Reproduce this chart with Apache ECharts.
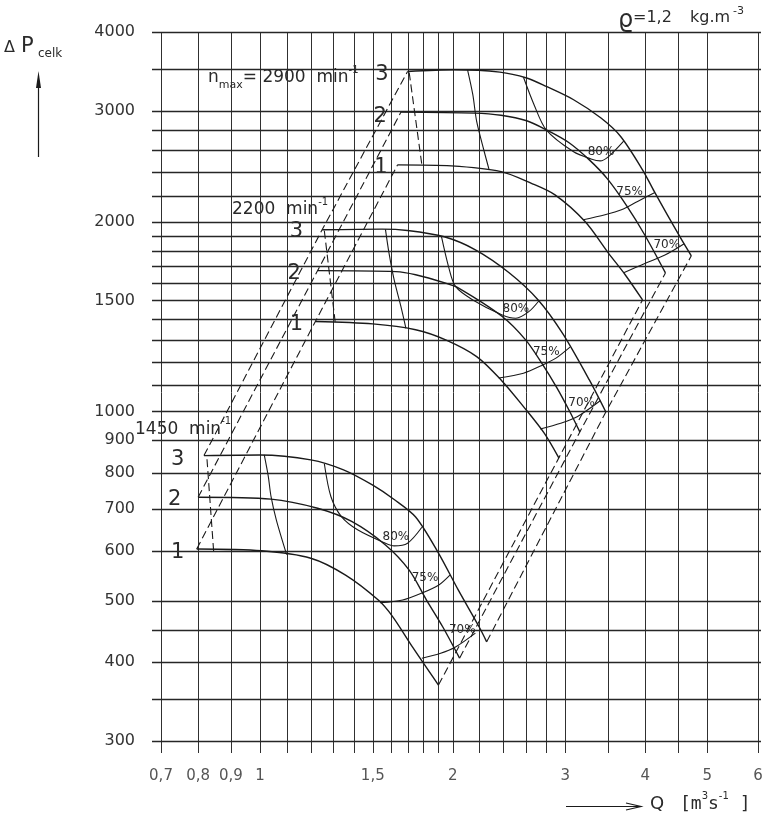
<!DOCTYPE html>
<html>
<head>
<meta charset="utf-8">
<title>Fan characteristic</title>
<script src="https://cdn.jsdelivr.net/npm/echarts@6.0.0/dist/echarts.min.js"></script>
<style>
html,body{margin:0;padding:0;background:#fff;}
#chart{width:773px;height:819px;}
</style>
</head>
<body>
<div id="chart"></div>
<script>
// ---------- axes: grid lines and tick labels ----------
const gridQ = [0.7,0.8,0.9,1,1.1,1.2,1.3,1.4,1.5,1.6,1.7,1.8,1.9,2,2.2,2.4,2.6,2.8,3,3.5,4,4.5,5,6];
const gridP = [300,350,400,450,500,600,700,800,900,1000,1100,1200,1300,1400,1500,1600,1700,1800,1900,2000,2200,2400,2600,2800,3000,3500,4000];
const xTickValues = [0.7,0.8,0.9,1,1.5,2,3,4,5,6];
const xTickLabels = ['0,7','0,8','0,9','1','1,5','2','3','4','5','6'];
const yTickValues = [300,400,500,600,700,800,900,1000,1500,2000,3000,4000];
const yTickLabels = ['300','400','500','600','700','800','900','1000','1500','2000','3000','4000'];

// ---------- fan curves  [Q m3/s, dP Pa] ----------
const c2900_3 = [[1.70,3463],[2.01,3485],[2.37,3455],[2.61,3381],[2.80,3279],[3.09,3123],[3.41,2921],[3.66,2731],[3.96,2418],[4.13,2234],[4.33,2051],[4.56,1872],[4.72,1766]];
const c2900_2 = [[1.66,2985],[2.16,2974],[2.38,2951],[2.61,2892],[2.80,2798],[3.04,2669],[3.27,2507],[3.49,2339],[3.75,2112],[3.99,1907],[4.30,1659]];
const c2900_1 = [[1.64,2462],[1.99,2453],[2.38,2402],[2.65,2303],[2.89,2206],[3.22,2001],[3.50,1785],[3.72,1648],[3.96,1503]];
const c2200_3 = [[1.25,1942],[1.55,1947],[1.70,1937],[1.94,1893],[2.17,1805],[2.45,1660],[2.72,1503],[2.97,1330],[3.27,1122],[3.47,998]];
const c2200_2 = [[1.23,1673],[1.63,1667],[1.75,1648],[1.95,1598],[2.04,1571],[2.39,1415],[2.60,1299],[2.76,1190],[2.91,1090],[3.05,998],[3.16,928]];
const c2200_1 = [[1.22,1389],[1.50,1377],[1.75,1348],[1.95,1299],[2.18,1222],[2.38,1122],[2.58,1018],[2.78,924],[2.93,844]];
const c1450_3 = [[0.817,851],[1.00,853],[1.20,838],[1.35,808],[1.50,764],[1.62,725],[1.75,680],[1.90,596],[2.04,521],[2.20,455],[2.26,431]];
const c1450_2 = [[0.80,731],[1.04,726],[1.23,702],[1.39,669],[1.57,614],[1.71,560],[1.82,502],[1.93,455],[2.05,406]];
const c1450_1 = [[0.796,605],[1.005,601],[1.20,585],[1.36,550],[1.53,502],[1.61,473],[1.73,423],[1.90,368]];

// ---------- efficiency lines ----------
const effL_2900 = [[2.11,3480],[2.15,3181],[2.18,2885],[2.24,2585],[2.28,2418]];
const eff80_2900 = [[2.58,3390],[2.68,3067],[2.80,2798],[3.09,2582],[3.29,2516],[3.40,2498],[3.50,2535],[3.70,2685]];
const eff75_2900 = [[3.20,2014],[3.46,2051],[3.67,2089],[3.89,2154],[4.14,2225]];
const eff70_2900 = [[3.70,1660],[4.00,1719],[4.30,1772],[4.60,1845]];
const effL_2200 = [[1.57,1945],[1.59,1785],[1.62,1617],[1.66,1467],[1.69,1355]];
const eff80_2200 = [[1.92,1897],[1.97,1698],[2.02,1579],[2.15,1503],[2.39,1423],[2.51,1406],[2.63,1440],[2.73,1500]];
const eff75_2200 = [[2.36,1130],[2.58,1150],[2.77,1186],[2.90,1215],[3.05,1265]];
const eff70_2200 = [[2.74,938],[2.95,958],[3.13,981],[3.40,1040]];
const effL_1450 = [[1.015,853],[1.03,788],[1.04,733],[1.06,673],[1.10,593]];
const eff80_1450 = [[1.26,826],[1.29,733],[1.34,681],[1.42,649],[1.57,618],[1.62,612],[1.70,618],[1.79,655]];
const eff75_1450 = [[1.54,497],[1.67,502],[1.79,515],[1.90,530],[1.98,550]];
const eff70_1450 = [[1.79,406],[1.91,413],[2.02,423],[2.17,445]];

// ---------- dashed stall lines ----------
const stall_2900 = [[1.71,3450],[1.79,2460]];
const stall_2200 = [[1.26,1935],[1.31,1388]];
const stall_1450 = [[0.826,840],[0.846,600]];

// ---------- annotations ----------
const pctLabelText = ['80%','75%','70%','80%','75%','70%','80%','75%','70%'];
const pctLabelAt = [[3.41,2585],[3.78,2234],[4.32,1838],[2.51,1453],[2.80,1245],[3.18,1031],[1.63,632],[1.81,544],[2.07,450]];
const bladeLabelText = ['3','2','1','3','2','1','3','2','1'];
const bladeLabelAt = [[1.55,3421],[1.54,2938],[1.545,2436],[1.14,1930],[1.13,1654],[1.14,1373],[0.743,838],[0.735,724],[0.743,597]];

// ---------- build ----------
const F = '"DejaVu Sans", "Liberation Sans", sans-serif';
const MONO = '"DejaVu Sans Mono", monospace';
const INK = '#1a1a1a';
const TXT = '#2a2a2a';

const fanCurves = [c2900_1,c2900_2,c2900_3,c2200_1,c2200_2,c2200_3,c1450_1,c1450_2,c1450_3];
const effCurves = [effL_2900,eff80_2900,eff75_2900,eff70_2900,effL_2200,eff80_2200,eff75_2200,eff70_2200,effL_1450,eff80_1450,eff75_1450,eff70_1450];
const stallLines = [stall_2900, stall_2200, stall_1450];
const bladeSets = [[c1450_1,c2200_1,c2900_1],[c1450_2,c2200_2,c2900_2],[c1450_3,c2200_3,c2900_3]];
const leftBounds = bladeSets.map(s => s.map(c => c[0]));
const rightBounds = bladeSets.map(s => s.map(c => c[c.length - 1]));

function solid(data, w, sm) {
  return {type:'line', data, symbol:'none', showSymbol:false, smooth:sm, silent:true, z:3,
    lineStyle:{color:INK, width:w, type:'solid'}};
}
function dashed(data) {
  return {type:'line', data, symbol:'none', showSymbol:false, smooth:false, silent:true, z:3,
    lineStyle:{color:INK, width:1.1, type:[8,4]}};
}
function textSeries(points, texts, make) {
  return {type:'custom', coordinateSystem:'cartesian2d', clip:false, silent:true, z:6,
    data: points,
    renderItem: (params, api) => {
      const p = api.coord([api.value(0), api.value(1)]);
      return Object.assign({type:'text'}, make(p, texts[params.dataIndex]));
    }};
}

const series = [];
// vertical grid lines
series.push({type:'custom', coordinateSystem:'cartesian2d', clip:false, silent:true, z:1,
  data: gridQ.map(q => [q, 300]),
  renderItem: (params, api) => {
    const cs = params.coordSys;
    const x = Math.round(api.coord([api.value(0), 300])[0]) + 0.5;
    return {type:'line', shape:{x1:x, y1:cs.y, x2:x, y2:cs.y + cs.height + 12},
      style:{stroke:'#303030', lineWidth:1}};
  }});
// horizontal grid lines
series.push({type:'custom', coordinateSystem:'cartesian2d', clip:false, silent:true, z:1,
  data: gridP.map(p => [0.7, p]),
  renderItem: (params, api) => {
    const cs = params.coordSys;
    const y = Math.round(api.coord([0.7, api.value(1)])[1]) + 0.5;
    return {type:'line', shape:{x1:cs.x - 9, y1:y, x2:cs.x + cs.width + 3, y2:y},
      style:{stroke:'#262626', lineWidth:1.3}};
  }});
fanCurves.forEach(c => series.push(solid(c, 1.4, 0.3)));
effCurves.forEach(c => series.push(solid(c, 1.1, 0.3)));
stallLines.forEach(c => series.push(dashed(c)));
leftBounds.forEach(c => series.push(dashed(c)));
rightBounds.forEach(c => series.push(dashed(c)));

// tick labels
series.push(textSeries(yTickValues.map(v => [0.7, v]), yTickLabels, (p, t) => ({
  x: 135, y: p[1], style:{text:t, fontSize:16, fontFamily:F, fill:'#333', align:'right', verticalAlign:'middle'}})));
series.push(textSeries(xTickValues.map(v => [v, 300]), xTickLabels, (p, t) => ({
  x: p[0], y: 776, style:{text:t, fontSize:15, fontFamily:F, fill:'#555', align:'center', verticalAlign:'middle'}})));
// efficiency labels
series.push(textSeries(pctLabelAt, pctLabelText, (p, t) => ({
  x: p[0], y: p[1], style:{text:t, fontSize:12, fontFamily:F, fill:TXT, align:'center', verticalAlign:'middle'}})));
// blade angle labels
series.push(textSeries(bladeLabelAt, bladeLabelText, (p, t) => ({
  x: p[0], y: p[1], style:{text:t, fontSize:21, fontFamily:F, fill:TXT, align:'center', verticalAlign:'middle'}})));

const speedRich = {
  a:{fontSize:17, fontFamily:F, fill:TXT, lineHeight:26},
  b:{fontSize:11, fontFamily:F, fill:TXT, verticalAlign:'bottom'},
  c:{fontSize:10, fontFamily:F, fill:TXT, verticalAlign:'top'}
};

const option = {
  animation:false,
  backgroundColor:'#fff',
  grid:{left:161, right:15, top:32, bottom:78, containLabel:false},
  xAxis:{type:'log', logBase:10, min:0.7, max:6,
    axisLine:{show:false}, axisTick:{show:false}, axisLabel:{show:false}, splitLine:{show:false}},
  yAxis:{type:'log', logBase:10, min:300, max:4000,
    axisLine:{show:false}, axisTick:{show:false}, axisLabel:{show:false}, splitLine:{show:false}},
  series,
  graphic:[
    // y-axis title
    {type:'text', x:4, y:47.5, style:{text:'\u0394', fontSize:16, fontFamily:F, fill:TXT, verticalAlign:'middle'}},
    {type:'text', x:21, y:47, style:{text:'P', fontSize:21, fontFamily:F, fill:TXT, verticalAlign:'middle'}},
    {type:'text', x:38, y:54, style:{text:'celk', fontSize:12, fontFamily:F, fill:TXT, verticalAlign:'middle'}},
    {type:'line', shape:{x1:38.5, y1:157, x2:38.5, y2:80}, style:{stroke:INK, lineWidth:1.2}},
    {type:'polygon', shape:{points:[[38.5,71],[36,88],[41,88]]}, style:{fill:INK}},
    // density
    {type:'text', x:618, y:21, style:{text:'\u03F1', fontSize:24, fontFamily:F, fill:TXT, verticalAlign:'middle'}},
    {type:'text', x:633, y:18, style:{text:'=1,2', fontSize:16, fontFamily:F, fill:TXT, verticalAlign:'middle'}},
    {type:'text', x:690, y:18, style:{text:'kg.m', fontSize:16, fontFamily:F, fill:TXT, verticalAlign:'middle'}},
    {type:'text', x:733, y:11, style:{text:'-3', fontSize:11, fontFamily:F, fill:TXT, verticalAlign:'middle'}},
    // speed labels
    {type:'text', x:208, y:78, style:{text:'{a|n}{b|max}{a|= 2900  min}{c|-1}', rich:speedRich, verticalAlign:'middle'}},
    {type:'text', x:232, y:210, style:{text:'{a|2200  min}{c|-1}', rich:speedRich, verticalAlign:'middle'}},
    {type:'text', x:135, y:429.5, style:{text:'{a|1450  min}{c|-1}', rich:speedRich, verticalAlign:'middle'}},
    // x-axis title
    {type:'line', shape:{x1:566, y1:806.5, x2:640, y2:806.5}, style:{stroke:INK, lineWidth:1.2}},
    {type:'polyline', shape:{points:[[626,803],[641,806.5],[626,810]]}, style:{stroke:INK, lineWidth:1.2, fill:null}},
    {type:'text', x:650, y:804, style:{text:'Q', fontSize:18, fontFamily:F, fill:TXT, verticalAlign:'middle'}},
    {type:'text', x:680, y:804, style:{text:'{a|[m}{c|3}{a|s}{c|-1}{a| ]}',
      rich:{a:{fontSize:18, fontFamily:MONO, fill:TXT, lineHeight:26},
            c:{fontSize:10, fontFamily:F, fill:TXT, verticalAlign:'top'}}, verticalAlign:'middle'}}
  ]
};

const chart = echarts.init(document.getElementById('chart'), null, {renderer:'canvas'});
chart.setOption(option);
</script>
</body>
</html>
